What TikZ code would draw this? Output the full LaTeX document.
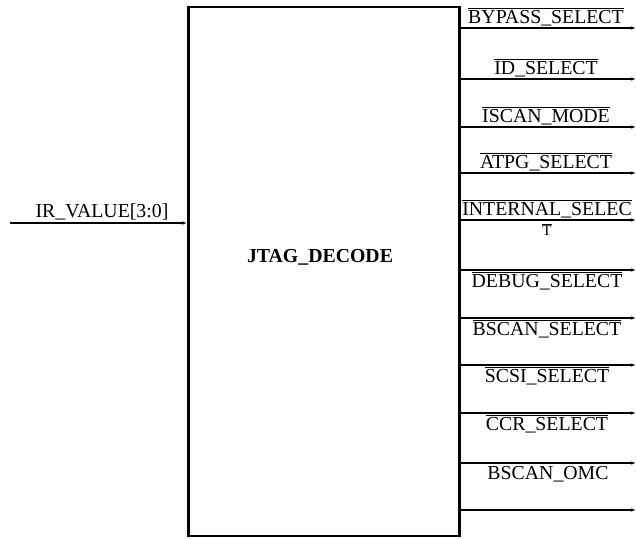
\documentclass[tikz,border=0pt]{standalone}
\usepackage{fontspec}
\setmainfont{Liberation Serif}
\usetikzlibrary{arrows.meta}
\tikzset{
  sig/.style={line width=1.2pt, -{Latex[length=5pt,width=3.5pt]}},
  lbl/.style={font=\fontsize{19.8}{21}\selectfont, inner sep=0pt, anchor=base},
  blk/.style={draw, line width=2.6pt}
}
\newcommand{\ovl}[1]{$\overline{\mbox{#1}}$}
\begin{document}
\begin{tikzpicture}[x=1pt,y=-1pt]
        \useasboundingbox (0,0) rectangle (636,538);
        \node[blk, minimum width=271pt, minimum height=529pt] (dec) at (324,271.5) {};
        \node[lbl, font=\fontsize{19.8}{21}\selectfont\bfseries] (name) at (320,262) {JTAG\_DECODE};

        % input
        \coordinate (irsrc) at (10,223);
        \draw[sig] (irsrc) -- (irsrc -| dec.west);
        \node[lbl] (irlbl) at (102,217) {IR\_VALUE[3:0]};

        % outputs, label above the line
        \foreach \n/\y/\t in {1/28/BYPASS\_SELECT, 2/79/ID\_SELECT, 3/127/ISCAN\_MODE, 4/173/ATPG\_SELECT} {
          \coordinate (o\n) at (636,\y);
          \draw[sig] (o\n -| dec.east) -- (o\n);
          \node[lbl] (l\n) at (546,\y-5) {\ovl{\t}};
        }
        \coordinate (o5) at (636,220);
        \draw[sig] (o5 -| dec.east) -- (o5);
        \node[lbl, align=center] (l5) at (547,235) {\ovl{INTERNAL\_SELEC}\\[-1pt]{\fontsize{15}{16}\selectfont\ovl{T}}};

        % outputs, label below the line
        \foreach \n/\y/\t in {6/270/DEBUG\_SELECT, 7/318/BSCAN\_SELECT, 8/365/SCSI\_SELECT, 9/413/CCR\_SELECT} {
          \coordinate (o\n) at (636,\y);
          \draw[sig] (o\n -| dec.east) -- (o\n);
          \node[lbl] (l\n) at (547,\y+17) {\ovl{\t}};
        }
        \coordinate (o10) at (636,463);
        \draw[sig] (o10 -| dec.east) -- (o10);
        \node[lbl] (l10) at (548,479) {BSCAN\_OMC};
        \coordinate (o11) at (636,510);
        \draw[sig] (o11 -| dec.east) -- (o11);
\end{tikzpicture}
\end{document}
